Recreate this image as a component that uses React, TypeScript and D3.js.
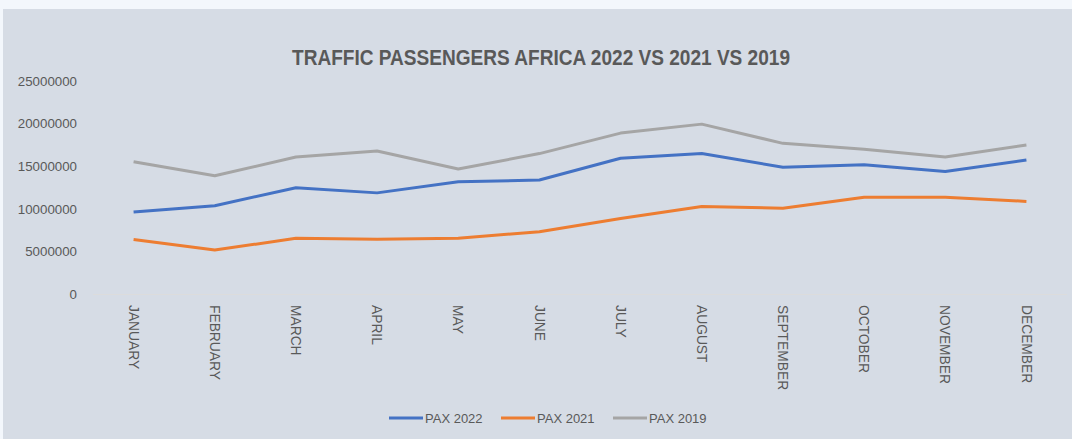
import React from "react";
import * as d3 from "d3";

const months = ["JANUARY","FEBRUARY","MARCH","APRIL","MAY","JUNE","JULY","AUGUST","SEPTEMBER","OCTOBER","NOVEMBER","DECEMBER"];
const pax2022 = [9650000,10400000,12500000,11900000,13200000,13400000,15950000,16500000,14900000,15200000,14400000,15750000];
const pax2021 = [6450000,5200000,6580000,6460000,6580000,7350000,8900000,10300000,10100000,11400000,11400000,10900000];
const pax2019 = [15550000,13900000,16100000,16800000,14700000,16500000,18900000,19950000,17700000,17000000,16100000,17500000];
const yTicks = [0,5000000,10000000,15000000,20000000,25000000];
const seriesNames = ["PAX 2022","PAX 2021","PAX 2019"];
const colors = ["#4472c4","#ed7d31","#a5a5a5"];

export default function App() {
  const W = 1072, H = 439;
  const x = d3.scaleBand<string>().domain(months).range([93, 1067]);
  const y = d3.scaleLinear().domain([0, 25000000]).range([294.5, 81]);
  const line = d3.line<number>()
    .x((_, i) => (x(months[i]) as number) + x.bandwidth() / 2)
    .y((d) => y(d));
  const series = [pax2022, pax2021, pax2019];
  const legendX = [389, 501, 613];
  const font = "'Liberation Sans', Arial, sans-serif";
  return (
    <svg width={W} height={H} style={{ position: "absolute", left: 0, top: 0 }}>
      <rect x={0} y={0} width={W} height={H} fill="#f3f7fc" />
      <rect x={3} y={9} width={W - 3} height={H - 9} fill="#d6dce5" />
      <text x={292} y={64.5} textLength={498} lengthAdjust="spacingAndGlyphs" fontFamily={font} fontWeight="bold" fontSize={22.5} fill="#595959">
        TRAFFIC PASSENGERS AFRICA 2022 VS 2021 VS 2019
      </text>
      {yTicks.map((t) => (
        <text key={t} x={77} y={y(t) + 4.5} textAnchor="end" fontFamily={font} fontSize={13.3} fill="#595959">
          {t}
        </text>
      ))}
      <line x1={93} x2={1067} y1={294.5} y2={294.5} stroke="#dcdcdc" strokeWidth={1} />
      {months.map((m) => {
        const cx = (x(m) as number) + x.bandwidth() / 2;
        return (
          <text key={m} transform={`translate(${cx - 4.8},305) rotate(90)`} textAnchor="start" fontFamily={font} fontSize={13.8} fill="#595959">
            {m}
          </text>
        );
      })}
      {series.map((s, i) => (
        <path key={i} d={line(s) as string} fill="none" stroke={colors[i]} strokeWidth={3} strokeLinejoin="round" />
      ))}
      {seriesNames.map((n, i) => (
        <g key={n}>
          <line x1={legendX[i]} x2={legendX[i] + 34} y1={418} y2={418} stroke={colors[i]} strokeWidth={3} />
          <text x={legendX[i] + 36} y={422.5} fontFamily={font} fontSize={13} fill="#595959">{n}</text>
        </g>
      ))}
    </svg>
  );
}
